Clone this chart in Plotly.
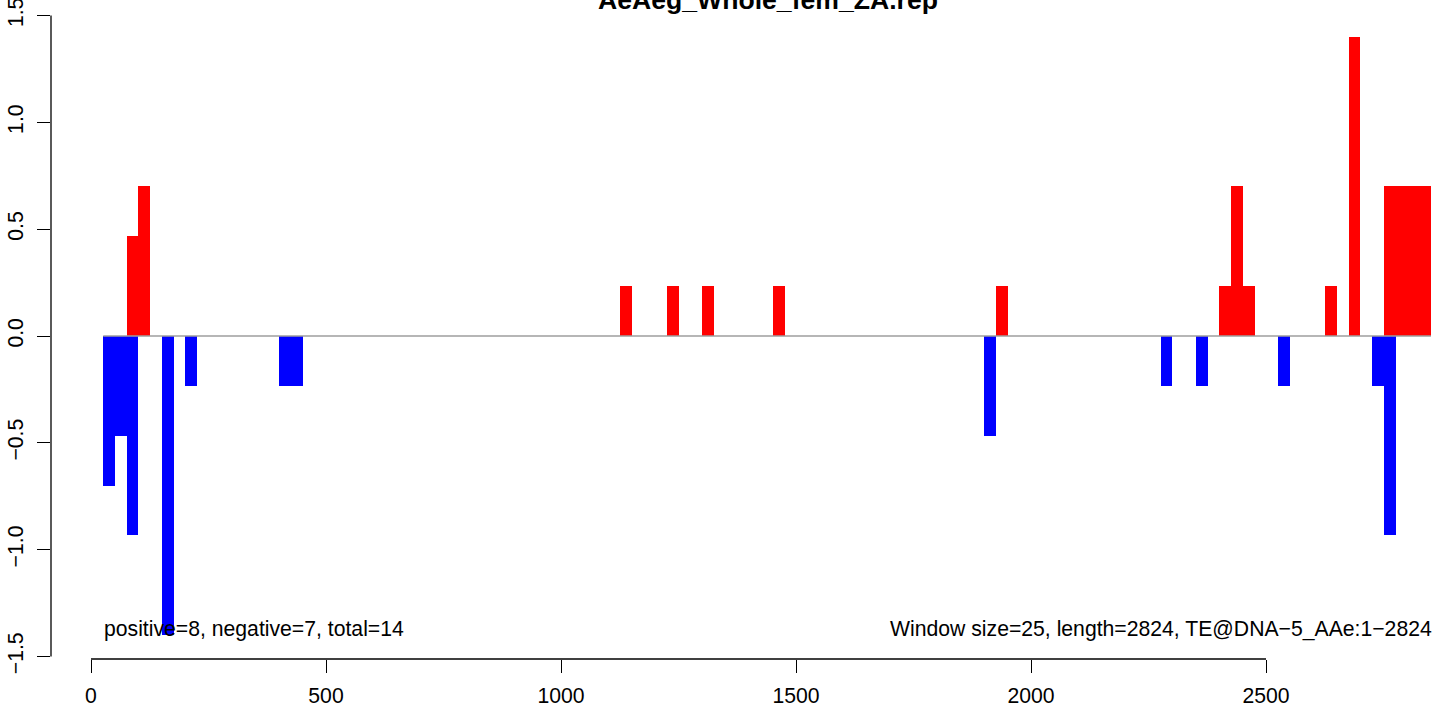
import plotly.graph_objects as go

# ---- data ----
window_size = 25
seq_length = 2824
title_text = "AeAeg_Whole_fem_ZA.rep"

# positive windows: start position of each window and its value
pos_start = [76, 101, 1126, 1226, 1301, 1451, 1926, 2401, 2426, 2451, 2626, 2676, 2751, 2776, 2801, 2826]
pos_value = [0.467, 0.700, 0.233, 0.233, 0.233, 0.233, 0.233, 0.233, 0.700, 0.233, 0.233, 1.400, 0.700, 0.700, 0.700, 0.700]

# negative windows
neg_start = [26, 51, 76, 151, 201, 401, 426, 1901, 2276, 2351, 2526, 2726, 2751]
neg_value = [-0.700, -0.467, -0.933, -1.400, -0.233, -0.233, -0.233, -0.467, -0.233, -0.233, -0.233, -0.233, -0.933]

baseline_x = [26, 2851]
baseline_y = [0, 0]

x_ticks = [0, 500, 1000, 1500, 2000, 2500]
y_ticks = [-1.5, -1.0, -0.5, 0.0, 0.5, 1.0, 1.5]
y_tick_text = ["\u22121.5", "\u22121.0", "\u22120.5", "0.0", "0.5", "1.0", "1.5"]

left_note = "positive=8, negative=7, total=14"
right_note = "Window size=25, length=2824, TE@DNA\u22125_AAe:1\u22122824"
note_y = -1.37

FONT = "Liberation Sans, Arial, Helvetica, sans-serif"
FS = 21.2

fig = go.Figure()
fig.add_trace(go.Scatter(x=baseline_x, y=baseline_y, mode="lines",
                         line=dict(color="#9e9e9e", width=1.6), hoverinfo="skip"))
fig.add_trace(go.Bar(x=pos_start, y=pos_value, width=window_size, offset=0,
                     marker=dict(color="#ff0000", line=dict(width=0))))
fig.add_trace(go.Bar(x=neg_start, y=neg_value, width=window_size, offset=0,
                     marker=dict(color="#0000ff", line=dict(width=0))))

fig.update_layout(
    width=1450, height=709,
    margin=dict(l=51, r=0, t=13, b=50, pad=0, autoexpand=False),
    paper_bgcolor="white", plot_bgcolor="white",
    showlegend=False, barmode="overlay", bargap=0,
    font=dict(family=FONT, size=FS, color="black"),
    title=dict(text="<b>%s</b>" % title_text, x=768 / 1450, xanchor="center",
               xref="container", yref="container", y=1.0, yanchor="middle",
               automargin=False,
               font=dict(family=FONT, size=26.6, color="black")),
)
fig.update_xaxes(range=[-85.1, 2891.5], showgrid=False, zeroline=False, showline=False,
                 automargin=False, ticklabeloverflow="allow",
                 tickmode="array", tickvals=x_ticks, ticks="outside", ticklen=13,
                 tickwidth=1.3, tickcolor="black", ticklabelstandoff=5,
                 tickfont=dict(family=FONT, size=FS, color="black"))
fig.update_yaxes(range=[-1.5117, 1.5117], showgrid=False, zeroline=False, showline=False,
                 automargin=False, ticklabeloverflow="allow",
                 tickmode="array", tickvals=y_ticks, ticktext=y_tick_text,
                 ticks="outside", ticklen=13, tickwidth=1.3, tickcolor="black",
                 tickangle=-90, ticklabelstandoff=6,
                 tickfont=dict(family=FONT, size=FS, color="black"))

# axis lines spanning only the tick range, as in base R graphics
fig.add_shape(type="line", xref="x", yref="paper", x0=x_ticks[0], x1=x_ticks[-1], y0=0, y1=0,
              line=dict(color="black", width=1.3))
fig.add_shape(type="line", xref="paper", yref="y", x0=0, x1=0, y0=y_ticks[0], y1=y_ticks[-1],
              line=dict(color="black", width=1.3))

fig.add_annotation(x=baseline_x[0], y=note_y, text=left_note, showarrow=False,
                   xanchor="left", yanchor="middle", xshift=-1,
                   font=dict(family=FONT, size=FS, color="black"))
fig.add_annotation(x=baseline_x[1], y=note_y, text=right_note, showarrow=False,
                   xanchor="right", yanchor="middle", xshift=3,
                   font=dict(family=FONT, size=FS, color="black"))

fig.write_html("out.html", config={"displayModeBar": False},
               post_script="document.body.style.margin='0';document.body.style.overflow='hidden';")
